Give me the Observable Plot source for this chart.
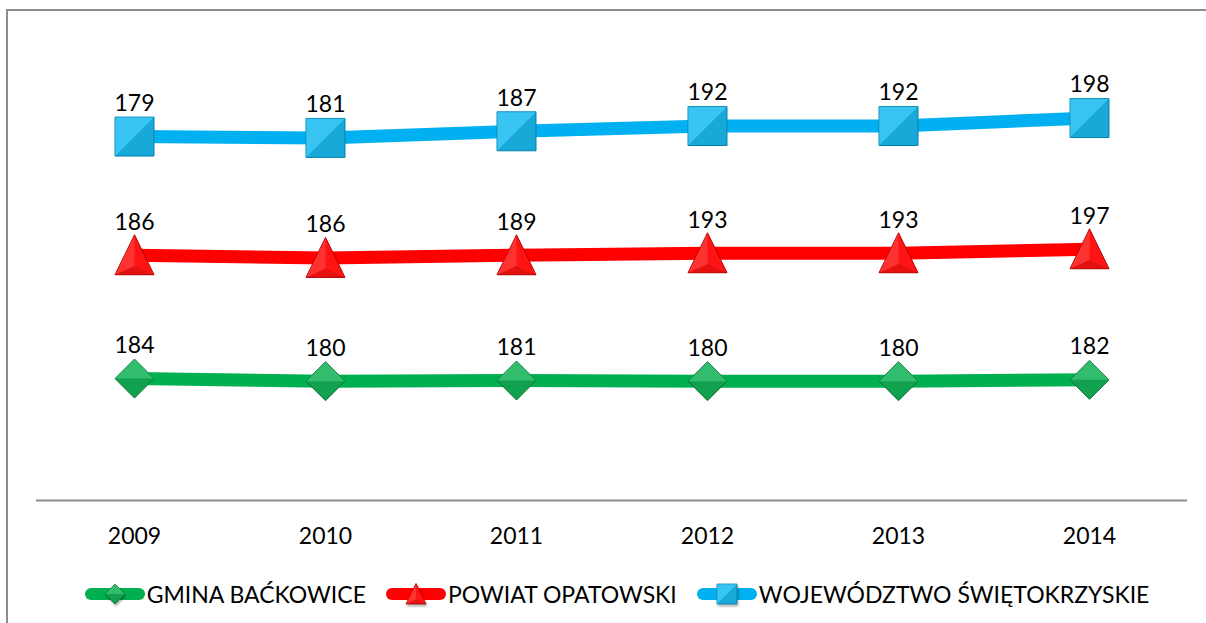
<!DOCTYPE html>
<html>
<head>
<meta charset="utf-8">
<script src="https://cdn.jsdelivr.net/npm/d3@7"></script>
<script src="https://cdn.jsdelivr.net/npm/@observablehq/plot@0.6"></script>
<style>
html, body { margin: 0; padding: 0; background: #fff; width: 1206px; height: 623px; overflow: hidden; font-family: Lato, "Open Sans", sans-serif; }
#frameTop { position: absolute; left: 6px; top: 9px; width: 1200px; height: 2px; background: #8c8c8c; }
#frameLeft { position: absolute; left: 6px; top: 9px; width: 2px; height: 614px; background: #8c8c8c; }
#chart { position: absolute; left: 0; top: 0; width: 1206px; height: 565px; overflow: hidden; }
#legend { position: absolute; left: 0; top: 565px; width: 1206px; height: 58px; display: flex; justify-content: center; align-items: center; padding-left: 28px; box-sizing: border-box; font-size: 23px; color: #000; }
.item { display: flex; align-items: center; margin: 0 10px; }
.item svg { display: block; overflow: visible; }
.item span { margin-left: 2px; white-space: nowrap; }
</style>
</head>
<body>
<div id="frameTop"></div>
<div id="frameLeft"></div>
<div id="chart"></div>
<div id="legend"></div>
<script>
// ---- data ----
const years = ["2009", "2010", "2011", "2012", "2013", "2014"];
const seriesNames = ["GMINA BAĆKOWICE", "POWIAT OPATOWSKI", "WOJEWÓDZTWO ŚWIĘTOKRZYSKIE"];
const gminaBackowice = [184, 180, 181, 180, 180, 182];
const powiatOpatowski = [186, 186, 189, 193, 193, 197];
const wojewodztwoSwietokrzyskie = [179, 181, 187, 192, 192, 198];

// ---- symbols (style) ----
function R(size) { return Math.sqrt(size / Math.PI); }
const shapes = {
  diamond: {
    base: {draw(c, s) { const h = R(s); c.moveTo(0, -h); c.lineTo(h, 0); c.lineTo(0, h); c.lineTo(-h, 0); c.closePath(); }},
    light: {draw(c, s) { const h = R(s); c.moveTo(-h, 0); c.lineTo(0, -h); c.lineTo(h, 0); c.lineTo(0, 0); c.closePath(); }},
    dark: {draw(c, s) { const h = R(s); c.moveTo(-h, 0); c.lineTo(0, h); c.lineTo(h, 0); c.lineTo(0, 0); c.closePath(); }}
  },
  triangle: {
    base: {draw(c, s) { const h = R(s); c.moveTo(0, -h * 1.05); c.lineTo(h, h); c.lineTo(-h, h); c.closePath(); }},
    light: {draw(c, s) { const h = R(s); c.moveTo(0, -h * 1.05); c.lineTo(0, h * 0.55); c.lineTo(-h, h); c.closePath(); }},
    dark: {draw(c, s) { const h = R(s); c.moveTo(-h, h); c.lineTo(0, h * 0.55); c.lineTo(h, h); c.closePath(); }}
  },
  square: {
    base: {draw(c, s) { const h = R(s); c.moveTo(-h, -h); c.lineTo(h, -h); c.lineTo(h, h); c.lineTo(-h, h); c.closePath(); }},
    light: {draw(c, s) { const h = R(s); c.moveTo(-h, -h); c.lineTo(h, -h); c.lineTo(0, 0); c.lineTo(-h, h); c.closePath(); }},
    dark: {draw(c, s) { const h = R(s); c.moveTo(h, -h); c.lineTo(h, h); c.lineTo(-h, h); c.lineTo(0, 0); c.closePath(); }}
  }
};
const styles = [
  {color: "#00b050", marker: "#13b458", edge: "#0a7a38", shape: "diamond"},
  {color: "#ff0000", marker: "#ff1414", edge: "#b80000", shape: "triangle"},
  {color: "#00b0f0", marker: "#1cbdf2", edge: "#0788b8", shape: "square"}
];

// ---- table ----
const valuesBySeries = [gminaBackowice, powiatOpatowski, wojewodztwoSwietokrzyskie];
const rows = [];
seriesNames.forEach((name, si) => years.forEach((year, yi) => rows.push({year, series: name, value: valuesBySeries[si][yi]})));

const stackOpts = {x: "year", y: "value", z: "series"};
const markerMarks = [];
seriesNames.forEach((name, si) => {
  const st = styles[si];
  const sh = shapes[st.shape];
  const sel = d => d.series === name;
  markerMarks.push(
    Plot.dot(rows, Plot.filter(sel, Plot.stackY2({...stackOpts, r: 19.5, symbol: sh.base, fill: st.marker, stroke: st.edge, strokeWidth: 1, ariaLabel: "marker"}))),
    Plot.dot(rows, Plot.filter(sel, Plot.stackY2({...stackOpts, r: 19.5, symbol: sh.light, fill: "#ffffff", fillOpacity: 0.13, stroke: "none", ariaLabel: "bevel"}))),
    Plot.dot(rows, Plot.filter(sel, Plot.stackY2({...stackOpts, r: 19.5, symbol: sh.dark, fill: "#000000", fillOpacity: 0.1, stroke: "none", ariaLabel: "bevel"})))
  );
});

const chart = Plot.plot({
  width: 1206,
  height: 565,
  marginLeft: 36,
  marginRight: 19,
  marginTop: 36,
  marginBottom: 65,
  style: {fontFamily: "Lato, 'Open Sans', sans-serif", fontSize: "23px", background: "transparent", color: "#000"},
  x: {type: "point", domain: years, padding: 0.5, tickSize: 0, tickPadding: 27, label: null},
  y: {domain: [0, 700], axis: null},
  color: {domain: seriesNames, range: styles.map(s => s.color)},
  marks: [
    Plot.ruleY([0], {stroke: "#8c8c8c", strokeWidth: 2}),
    Plot.lineY(rows, Plot.stackY2({...stackOpts, stroke: "series", strokeWidth: 13, strokeLinecap: "round", strokeLinejoin: "round"})),
    ...markerMarks,
    Plot.text(rows, Plot.stackY2({...stackOpts, text: d => String(d.value), dy: -33, fontSize: 23, fill: "#000"}))
  ]
});
chart.querySelectorAll('g[aria-label="marker"]').forEach(g => g.style.filter = "drop-shadow(2px 4px 2.5px rgba(0,0,0,0.35))");
document.getElementById("chart").appendChild(chart);

// ---- legend ----
const legend = document.getElementById("legend");
seriesNames.forEach((name, si) => {
  const st = styles[si];
  const sh = shapes[st.shape];
  const item = document.createElement("div");
  item.className = "item";
  const svg = d3.create("svg").attr("width", 60).attr("height", 30);
  svg.append("line").attr("x1", 6).attr("x2", 54).attr("y1", 15).attr("y2", 15)
    .attr("stroke", st.color).attr("stroke-width", 12).attr("stroke-linecap", "round");
  const g = svg.append("g").attr("transform", "translate(30,15)").style("filter", "drop-shadow(1px 2px 1px rgba(0,0,0,0.3))");
  const sz = Math.PI * 10 * 10;
  g.append("path").attr("d", d3.symbol(sh.base, sz)()).attr("fill", st.marker).attr("stroke", st.edge).attr("stroke-width", 0.8);
  g.append("path").attr("d", d3.symbol(sh.light, sz)()).attr("fill", "#fff").attr("fill-opacity", 0.13);
  g.append("path").attr("d", d3.symbol(sh.dark, sz)()).attr("fill", "#000").attr("fill-opacity", 0.1);
  item.appendChild(svg.node());
  const span = document.createElement("span");
  span.textContent = name;
  item.appendChild(span);
  legend.appendChild(item);
});
</script>
</body>
</html>
